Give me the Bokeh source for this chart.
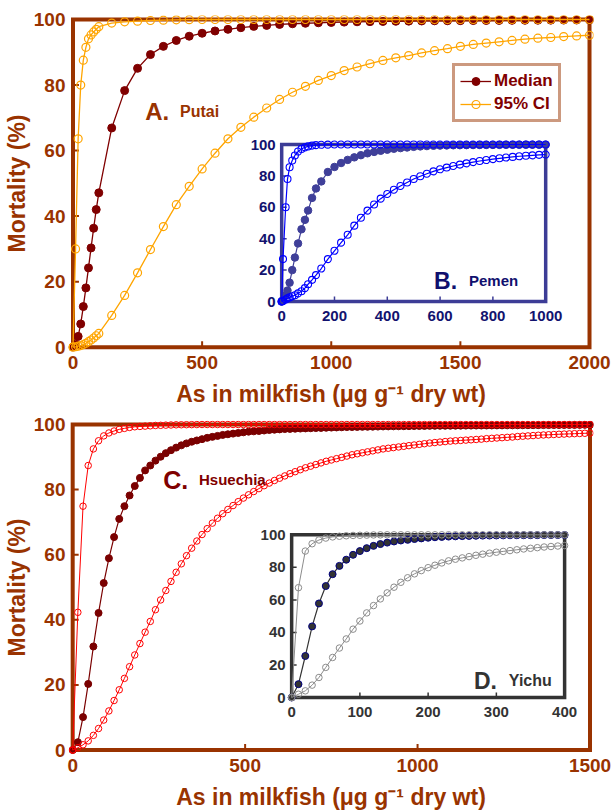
from bokeh.plotting import figure
from bokeh.layouts import column
from bokeh.models import Range1d, Legend, LegendItem
from bokeh.core.properties import value
from bokeh.embed import file_html
from bokeh.resources import INLINE

# ---------------- data ----------------
A_x = [0, 10, 20, 30, 40, 50, 60, 70, 80, 90, 100,
       150, 200, 250, 300, 350, 400, 450, 500, 550, 600, 650, 700, 750, 800, 850, 900, 950, 1000,
       1050, 1100, 1150, 1200, 1250, 1300, 1350, 1400, 1450, 1500, 1550, 1600, 1650, 1700, 1750,
       1800, 1850, 1900, 1950, 2000]
A_median = [0, 0.8, 3.3, 7.1, 12.4, 18.1, 24.2, 30.3, 36.3, 42.0, 47.1,
            66.9, 78.3, 85.1, 89.3, 91.8, 93.6, 94.9, 95.8, 96.5, 97.0, 97.5, 97.9, 98.2, 98.5, 98.7,
            98.85, 99.0, 99.1, 99.2, 99.3, 99.35, 99.4, 99.45, 99.5, 99.55, 99.6, 99.62, 99.65, 99.68,
            99.7, 99.72, 99.74, 99.76, 99.78, 99.8, 99.82, 99.84, 99.86]
A_ci_lo = [0, 30.0, 63.6, 80.0, 87.6, 91.5, 94.1, 95.3, 96.2, 97.0, 97.8,
           98.9, 99.3, 99.5, 99.7, 99.8, 99.9, 99.95,
           100, 100, 100, 100, 100, 100, 100, 100, 100, 100, 100, 100, 100, 100, 100, 100,
           100, 100, 100, 100, 100, 100, 100, 100, 100, 100, 100, 100, 100, 100, 100]
A_ci_hi = [0, 0.1, 0.3, 0.5, 0.8, 1.2, 1.7, 2.2, 2.8, 3.5, 4.2,
           9.7, 15.8, 22.7, 29.8, 36.8, 43.5, 49.1, 54.4, 59.2, 63.6, 67.1, 70.2, 73.0, 75.6, 77.8,
           79.6, 81.4, 82.9, 84.4, 85.5, 86.5, 87.5, 88.3, 89.0, 89.8, 90.5, 91.1, 91.8, 92.4, 92.8,
           93.2, 93.6, 94.0, 94.3, 94.5, 94.8, 95.0, 95.2]

B_x = [0, 5, 15, 22, 30, 40, 50, 62, 75, 88, 100, 115, 130,
       150, 175, 200, 225, 250, 275, 300, 325, 350, 375, 400, 425, 450, 475, 500, 525, 550, 575,
       600, 625, 650, 675, 700, 725, 750, 775, 800, 825, 850, 875, 900, 925, 950, 975, 1000]
B_median = [0, 1.0, 4.0, 7.0, 12.0, 20.0, 28.0, 37.0, 46.0, 52.0, 58.0, 66.0, 72.0,
            76.5, 82.5, 85.7, 88.2, 90.2, 91.8, 93.2, 94.4, 95.3, 96.0, 96.7, 97.3, 97.7, 98.1,
            98.5, 98.8, 99.0, 99.2, 99.3, 99.4, 99.5, 99.55, 99.6, 99.65, 99.7, 99.72, 99.75,
            99.77, 99.8, 99.82, 99.84, 99.86, 99.88, 99.9, 99.9]
B_ci_lo = [0, 27.0, 60.0, 78.0, 85.5, 89.8, 93.0, 95.5, 97.2, 98.2, 98.8, 99.3, 99.6,
           99.8, 99.9, 100, 100, 100, 100, 100, 100, 100, 100, 100, 100, 100, 100, 100, 100,
           100, 100, 100, 100, 100, 100, 100, 100, 100, 100, 100, 100, 100, 100, 100, 100,
           100, 100, 100]
B_ci_hi = [0, 0.3, 1.3, 2.0, 2.6, 3.3, 4.0, 5.2, 6.5, 8.5, 11.0, 13.8, 16.8,
           21.0, 27.0, 32.3, 37.5, 42.5, 48.3, 53.3, 57.9, 61.8, 65.5, 68.5, 71.2, 73.6, 75.8,
           78.0, 79.8, 81.4, 82.9, 84.2, 85.3, 86.3, 87.2, 88.0, 88.8, 89.5, 90.1, 90.7, 91.2,
           91.7, 92.1, 92.5, 92.8, 93.1, 93.4, 93.6]

C_x = [0, 15, 30, 45, 60, 75, 90, 105, 120, 135,
       150, 165, 180, 195, 210, 225, 240, 255, 270, 285,
       300, 315, 330, 345, 360, 375, 390, 405, 420, 435,
       450, 465, 480, 495, 510, 525, 540, 555, 570, 585,
       600, 615, 630, 645, 660, 675, 690, 705, 720, 735,
       750, 765, 780, 795, 810, 825, 840, 855, 870, 885,
       900, 915, 930, 945, 960, 975, 990, 1005, 1020, 1035,
       1050, 1065, 1080, 1095, 1110, 1125, 1140, 1155, 1170, 1185,
       1200, 1215, 1230, 1245, 1260, 1275, 1290, 1305, 1320, 1335,
       1350, 1365, 1380, 1395, 1410, 1425, 1440, 1455, 1470, 1485,
       1500]
C_median = [0, 2.4, 10.1, 20.3, 31.8, 42.1, 51.3, 58.9, 65.4, 71.0,
            74.9, 78.2, 81.1, 83.6, 85.9, 87.4, 88.9, 90.1, 91.2, 92.1,
            92.9, 93.6, 94.2, 94.7, 95.1, 95.5, 95.9, 96.2, 96.5, 96.8,
            97.0, 97.2, 97.4, 97.6, 97.8, 97.9, 98.0, 98.15, 98.3, 98.4,
            98.5, 98.6, 98.65, 98.7, 98.75, 98.8, 98.85, 98.9, 98.95, 99.0,
            99.05, 99.1, 99.15, 99.2, 99.22, 99.25, 99.28, 99.3, 99.33, 99.36,
            99.4, 99.42, 99.44, 99.46, 99.48, 99.5, 99.52, 99.54, 99.56, 99.58,
            99.6, 99.61, 99.62, 99.63, 99.64, 99.65, 99.66, 99.67, 99.68, 99.69,
            99.7, 99.71, 99.72, 99.73, 99.74, 99.75, 99.76, 99.77, 99.78, 99.79,
            99.8, 99.81, 99.82, 99.83, 99.84, 99.85, 99.86, 99.87, 99.88, 99.89,
            99.9]
C_ci_lo = [0, 42.3, 74.9, 87.4, 92.5, 95.0, 96.5, 97.4, 98.0, 98.5,
           98.8, 99.1, 99.3, 99.4, 99.5, 99.6, 99.7, 99.75, 99.8, 99.85,
           99.9, 99.92, 99.94, 99.96, 99.98, 100, 100, 100, 100, 100,
           100, 100, 100, 100, 100, 100, 100, 100, 100, 100,
           100, 100, 100, 100, 100, 100, 100, 100, 100, 100,
           100, 100, 100, 100, 100, 100, 100, 100, 100, 100,
           100, 100, 100, 100, 100, 100, 100, 100, 100, 100,
           100, 100, 100, 100, 100, 100, 100, 100, 100, 100,
           100, 100, 100, 100, 100, 100, 100, 100, 100, 100,
           100, 100, 100, 100, 100, 100, 100, 100, 100, 100,
           100]
C_ci_hi = [0, 0.7, 1.6, 2.8, 4.5, 6.6, 9.2, 12.0, 15.2, 18.5,
           22.0, 25.6, 29.2, 32.7, 36.2, 39.5, 43.1, 46.1, 49.0, 51.8,
           54.6, 57.2, 59.7, 62.0, 64.2, 66.2, 68.0, 69.7, 71.2, 72.6,
           73.9, 75.1, 76.3, 77.4, 78.4, 79.4, 80.3, 81.2, 82.0, 82.8,
           83.5, 84.2, 84.9, 85.5, 86.1, 86.7, 87.2, 87.7, 88.2, 88.7,
           89.1, 89.5, 89.9, 90.3, 90.7, 91.0, 91.3, 91.6, 91.9, 92.2,
           92.5, 92.7, 92.9, 93.1, 93.3, 93.5, 93.7, 93.9, 94.1, 94.3,
           94.45, 94.6, 94.75, 94.9, 95.0, 95.1, 95.2, 95.3, 95.4, 95.5,
           95.65, 95.75, 95.85, 95.95, 96.05, 96.15, 96.3, 96.4, 96.5, 96.6,
           96.7, 96.78, 96.85, 96.92, 97.0, 97.06, 97.12, 97.18, 97.24, 97.3,
           97.35]

D_x = [0, 10, 20, 30, 40, 50, 60, 70, 80, 90, 100,
       110, 120, 130, 140, 150, 160, 170, 180, 190, 200,
       210, 220, 230, 240, 250, 260, 270, 280, 290, 300,
       310, 320, 330, 340, 350, 360, 370, 380, 390, 400]
D_median = [0, 8.2, 25.5, 43.7, 57.8, 68.5, 75.8, 80.9, 84.7, 87.7, 90.0,
            91.8, 93.2, 94.3, 95.2, 95.9, 96.5, 96.9, 97.4, 97.8, 98.2,
            98.5, 98.7, 98.9, 99.05, 99.2, 99.3, 99.4, 99.5, 99.55, 99.6,
            99.65, 99.7, 99.72, 99.75, 99.78, 99.8, 99.82, 99.84, 99.86, 99.88]
D_ci_lo = [0, 67.5, 90.0, 94.5, 96.8, 98.0, 98.7, 99.1, 99.4, 99.6, 99.7,
           99.8, 99.9, 99.95, 100, 100, 100, 100, 100, 100, 100,
           100, 100, 100, 100, 100, 100, 100, 100, 100, 100,
           100, 100, 100, 100, 100, 100, 100, 100, 100, 100]
D_ci_hi = [0, 2.0, 4.1, 7.6, 12.3, 18.5, 24.6, 30.4, 36.0, 42.0, 47.0,
           52.0, 56.5, 60.6, 64.3, 67.8, 70.8, 73.6, 76.0, 78.0, 79.8,
           81.3, 82.7, 84.0, 85.0, 85.8, 86.6, 87.4, 88.1, 88.7, 89.3,
           89.8, 90.3, 90.8, 91.3, 91.7, 92.1, 92.5, 92.8, 93.1, 93.4]

Y_TICKS = [0, 20, 40, 60, 80, 100]
A_XTICKS = [0, 500, 1000, 1500, 2000]
B_XTICKS = [0, 200, 400, 600, 800, 1000]
C_XTICKS = [0, 500, 1000, 1500]
D_XTICKS = [0, 100, 200, 300, 400]

# ---------------- style ----------------
FONT = "Liberation Sans"
BROWN = "#993300"
W = 614
H1, H2 = 410, 402
PAD = 4


def make_main(H, x_px, y_px, xmax, xticks):
    L = int(round(x_px[0] - PAD)); R = int(round(x_px[1] + PAD))
    T = int(round(y_px[0] - PAD)); B = int(round(y_px[1] + PAD))
    sx = xmax / (x_px[1] - x_px[0]); sy = 100.0 / (y_px[1] - y_px[0])
    xr = Range1d(-(x_px[0] - L) * sx, xmax + (R - x_px[1]) * sx)
    yr = Range1d(-(B - y_px[1]) * sy, 100 + (y_px[0] - T) * sy)
    p = figure(width=W, height=H, x_range=xr, y_range=yr, output_backend="svg",
               toolbar_location=None, min_border_left=L, min_border_right=W - R,
               min_border_top=T, min_border_bottom=H - B)
    p.outline_line_color = None
    p.grid.visible = False
    p.background_fill_color = "white"
    p.border_fill_color = "white"
    for ax in (p.xaxis, p.yaxis):
        ax.axis_line_color = None
        ax.major_tick_line_color = None
        ax.minor_tick_line_color = None
        ax.major_tick_out = 0
        ax.major_tick_in = 0
        ax.minor_tick_out = 0
        ax.minor_tick_in = 0
        ax.major_label_text_font = FONT
        ax.major_label_text_font_style = "bold"
        ax.major_label_text_font_size = "19px"
        ax.major_label_text_color = BROWN
        ax.axis_label_text_font = FONT
        ax.axis_label_text_font_style = "bold"
        ax.axis_label_text_font_size = "23px"
        ax.axis_label_text_color = BROWN
    p.xaxis.ticker = xticks
    p.yaxis.ticker = Y_TICKS
    p.yaxis.major_label_standoff = 3
    p.xaxis.major_label_standoff = 4
    p.yaxis.axis_label_standoff = 1
    p.xaxis.axis_label_standoff = 9
    p.yaxis.axis_label = "Mortality (%)"
    p.xaxis.axis_label = "As in milkfish (\u03bcg g\u207b\u00b9 dry wt)"
    # frame drawn at the data bounds
    p.quad(left=[0], right=[xmax], bottom=[0], top=[100], fill_color=None,
           line_color=BROWN, line_width=4, line_join="miter")
    tl = 6
    xin = [t for t in xticks if 0 < t < xmax]
    p.segment(x0=xin, y0=[0] * len(xin), x1=xin, y1=[tl * sy] * len(xin),
              line_color=BROWN, line_width=2)
    yin = [t for t in Y_TICKS if 0 < t < 100]
    p.segment(x0=[0] * len(yin), y0=yin, x1=[tl * sx] * len(yin), y1=yin,
              line_color=BROWN, line_width=2)
    g = dict(L=L, R=R, T=T, B=B, sx=sx, sy=sy, xr=xr, yr=yr)
    return p, g


def px2data(g, px, py):
    return g["xr"].start + (px - g["L"]) * g["sx"], g["yr"].end - (py - g["T"]) * g["sy"]


def add_inset(p, g, name, x_px, y_px, xmax, xticks, frame_color, lab_color):
    isx = xmax / (x_px[1] - x_px[0]); isy = 100.0 / (y_px[1] - y_px[0])
    xr = Range1d(-(x_px[0] - g["L"]) * isx, xmax + (g["R"] - x_px[1]) * isx)
    yr = Range1d(-(g["B"] - y_px[1]) * isy, 100 + (y_px[0] - g["T"]) * isy)
    p.extra_x_ranges = {name + "x": xr}
    p.extra_y_ranges = {name + "y": yr}
    kw = dict(x_range_name=name + "x", y_range_name=name + "y")
    p.quad(left=[0], right=[xmax], bottom=[0], top=[100], fill_color="white",
           line_color=frame_color, line_width=3.5, line_join="miter", **kw)
    tl = 5
    xin = [t for t in xticks if 0 < t < xmax]
    p.segment(x0=xin, y0=[0] * len(xin), x1=xin, y1=[tl * isy] * len(xin),
              line_color=frame_color, line_width=1.5, **kw)
    yin = [t for t in Y_TICKS if 0 < t < 100]
    p.segment(x0=[0] * len(yin), y0=yin, x1=[tl * isx] * len(yin), y1=yin,
              line_color=frame_color, line_width=1.5, **kw)
    p.text(x=xticks, y=[0] * len(xticks), text=[str(t) for t in xticks],
           text_font=value(FONT), text_font_style="bold", text_font_size="15px",
           text_color=lab_color, text_align="center", text_baseline="middle",
           y_offset=14, **kw)
    p.text(x=[0] * len(Y_TICKS), y=Y_TICKS, text=[str(t) for t in Y_TICKS],
           text_font=value(FONT), text_font_style="bold", text_font_size="15px",
           text_color=lab_color, text_align="right", text_baseline="middle",
           x_offset=-6, **kw)
    return kw


def add_title(p, g, big, small, px, py, px2, color, bigsize, smallsize):
    x1, y1 = px2data(g, px, py)
    x2, _ = px2data(g, px2, py)
    p.text(x=[x1], y=[y1], text=[big], text_font=value(FONT), text_font_style="bold",
           text_font_size=bigsize, text_color=color, text_align="left",
           text_baseline="alphabetic")
    p.text(x=[x2], y=[y1], text=[small], text_font=value(FONT), text_font_style="bold",
           text_font_size=smallsize, text_color=color, text_align="left",
           text_baseline="alphabetic")


# ---------------- panel A + inset B ----------------
pA, gA = make_main(H1, (70.5, 589.0), (19.0, 346.7), 2000, A_XTICKS)
A_MED, A_CI = "#800000", "#FFA500"
lm = pA.line(A_x, A_median, line_color=A_MED, line_width=1.3)
sm = pA.scatter(A_x, A_median, marker="circle", size=8, fill_color=A_MED, line_color=A_MED)
lc = pA.line(A_x, A_ci_hi, line_color=A_CI, line_width=1.3)
sc = pA.scatter(A_x, A_ci_hi, marker="circle", size=8, fill_color=None, line_color=A_CI,
                line_width=1.2)
pA.line(A_x, A_ci_lo, line_color=A_CI, line_width=1.3)
pA.scatter(A_x, A_ci_lo, marker="circle", size=8, fill_color=None, line_color=A_CI,
           line_width=1.2)
add_title(pA, gA, "A.", "Putai", 143, 110.7, 178, BROWN, "24px", "16px")

B_FRAME, B_MED, B_CI, B_TXT = "#3C3C96", "#3F3F99", "#0000FF", "#12126E"
kwB = add_inset(pA, gA, "b", (280.0, 545.0), (144.0, 301.0), 1000, B_XTICKS, B_FRAME, B_TXT)
pA.line(B_x, B_median, line_color=B_MED, line_width=1.2, **kwB)
pA.scatter(B_x, B_median, marker="circle", size=7.5, fill_color=B_MED, line_color=B_MED, **kwB)
for ys in (B_ci_lo, B_ci_hi):
    pA.line(B_x, ys, line_color=B_CI, line_width=1.2, **kwB)
    pA.scatter(B_x, ys, marker="circle", size=7, fill_color=None, line_color=B_CI,
               line_width=1.1, **kwB)
add_title(pA, gA, "B.", "Pemen", 433, 280, 468, "#10106E", "23px", "15px")

legend = Legend(items=[LegendItem(label="Median", renderers=[lm, sm]),
                       LegendItem(label="95% CI", renderers=[lc, sc])],
                location=(384, 229))
legend.border_line_color = BROWN
legend.border_line_width = 3
legend.background_fill_color = "white"
legend.background_fill_alpha = 1
legend.label_text_font = FONT
legend.label_text_font_style = "bold"
legend.label_text_font_size = "17px"
legend.label_text_color = "#800000"
legend.glyph_width = 31
legend.glyph_height = 20
legend.label_height = 20
legend.label_standoff = 3
legend.spacing = 3
legend.padding = 5
legend.margin = 0
pA.add_layout(legend)

# ---------------- panel C + inset D ----------------
pC, gC = make_main(H2, (71.2, 590.5), (14.0, 339.5), 1500, C_XTICKS)
C_MED, C_CI = "#7A0000", "#FF0000"
pC.line(C_x, C_median, line_color=C_MED, line_width=1.2)
pC.scatter(C_x, C_median, marker="circle", size=7, fill_color=C_MED, line_color=C_MED)
for ys in (C_ci_lo, C_ci_hi):
    pC.line(C_x, ys, line_color=C_CI, line_width=1.0)
    pC.scatter(C_x, ys, marker="circle", size=6.5, fill_color=None, line_color=C_CI,
               line_width=1.0)
add_title(pC, gC, "C.", "Hsuechia", 162, 69, 198, "#800000", "25px", "15px")

D_FRAME, D_MED, D_EDGE, D_CI = "#333333", "#333333", "#000080", "#8C8C8C"
kwD = add_inset(pC, gC, "d", (291.0, 565.0), (124.3, 287.0), 400, D_XTICKS, D_FRAME, "#333333")
pC.line(D_x, D_median, line_color=D_MED, line_width=1.2, **kwD)
pC.scatter(D_x, D_median, marker="circle", size=7, fill_color=D_MED, line_color=D_EDGE,
           line_width=1, **kwD)
for ys in (D_ci_lo, D_ci_hi):
    pC.line(D_x, ys, line_color=D_CI, line_width=1.0, **kwD)
    pC.scatter(D_x, ys, marker="circle", size=6.5, fill_color=None, line_color=D_CI,
               line_width=1.0, **kwD)
add_title(pC, gC, "D.", "Yichu", 474, 270, 509, "#333333", "23px", "16px")

page = column(pA, pC, spacing=0)
open("out.html", "w").write(file_html(page, INLINE))
